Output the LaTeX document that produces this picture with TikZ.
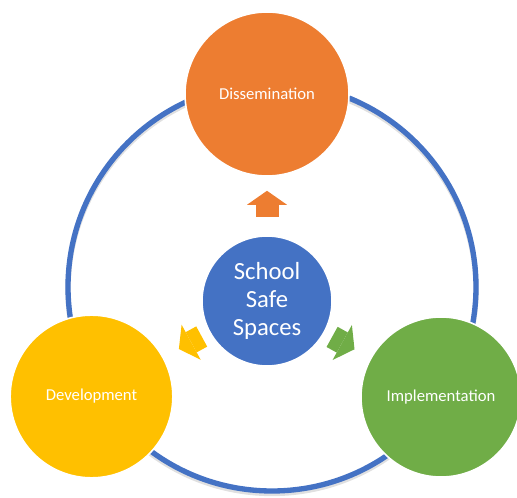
\documentclass[tikz,border=0pt]{standalone}
\usepackage{fontspec}
\setmainfont{Carlito}
\usetikzlibrary{arrows.meta}

\definecolor{ssBlue}{RGB}{68,114,196}
\definecolor{ssOrange}{RGB}{237,125,49}
\definecolor{ssYellow}{RGB}{255,192,0}
\definecolor{ssGreen}{RGB}{112,173,71}

\tikzset{every picture/.style={line width=0.75pt}}
\tikzset{
  phase/.style={circle, fill=#1, draw=white, line width=1.2pt, inner sep=0pt,
    text=white, font=\fontsize{12.5}{15}\selectfont},
  hub/.style={circle, fill=ssBlue, draw=white, line width=1.2pt, inner sep=0pt,
    minimum size=97.5pt, text=white, align=center,
    font=\fontsize{18.5}{21}\selectfont},
  flow/.style={draw=#1, line width=17.25pt,
    -{Triangle[length=10.5pt,width=30pt,line width=0pt]}}
}

\begin{document}
\begin{tikzpicture}[x=0.75pt,y=0.75pt,yscale=-1,xscale=1]
\useasboundingbox (0,0) rectangle (517,498);

%Shape: Ring shadow
\draw [color=black, opacity=0.12, line width=4pt] (272,289.5) circle (204);
%Shape: Ring
\draw [color=ssBlue, line width=4pt] (272,287) circle (204);

% Phase circles
\node [phase=ssOrange, minimum size=123pt] (diss) at (267,94) {Dissemination};
\node [phase=ssYellow, minimum size=122pt] (dev) at (91.5,396.5) {Development};
\node [phase=ssGreen, minimum size=120pt] (impl) at (441,397) {Implementation};

% Hub
\node [hub] (centre) at (267,301) {School\\Safe\\Spaces};

% Block arrows
\draw [flow=ssOrange, shorten <=14pt, shorten >=10.5pt] (centre) -- (diss);
\draw [flow=ssYellow, shorten <=6.4pt, shorten >=13pt] (centre) -- (dev);
\draw [flow=ssGreen, shorten <=6.4pt, shorten >=13.5pt] (centre) -- (impl);

\end{tikzpicture}
\end{document}
